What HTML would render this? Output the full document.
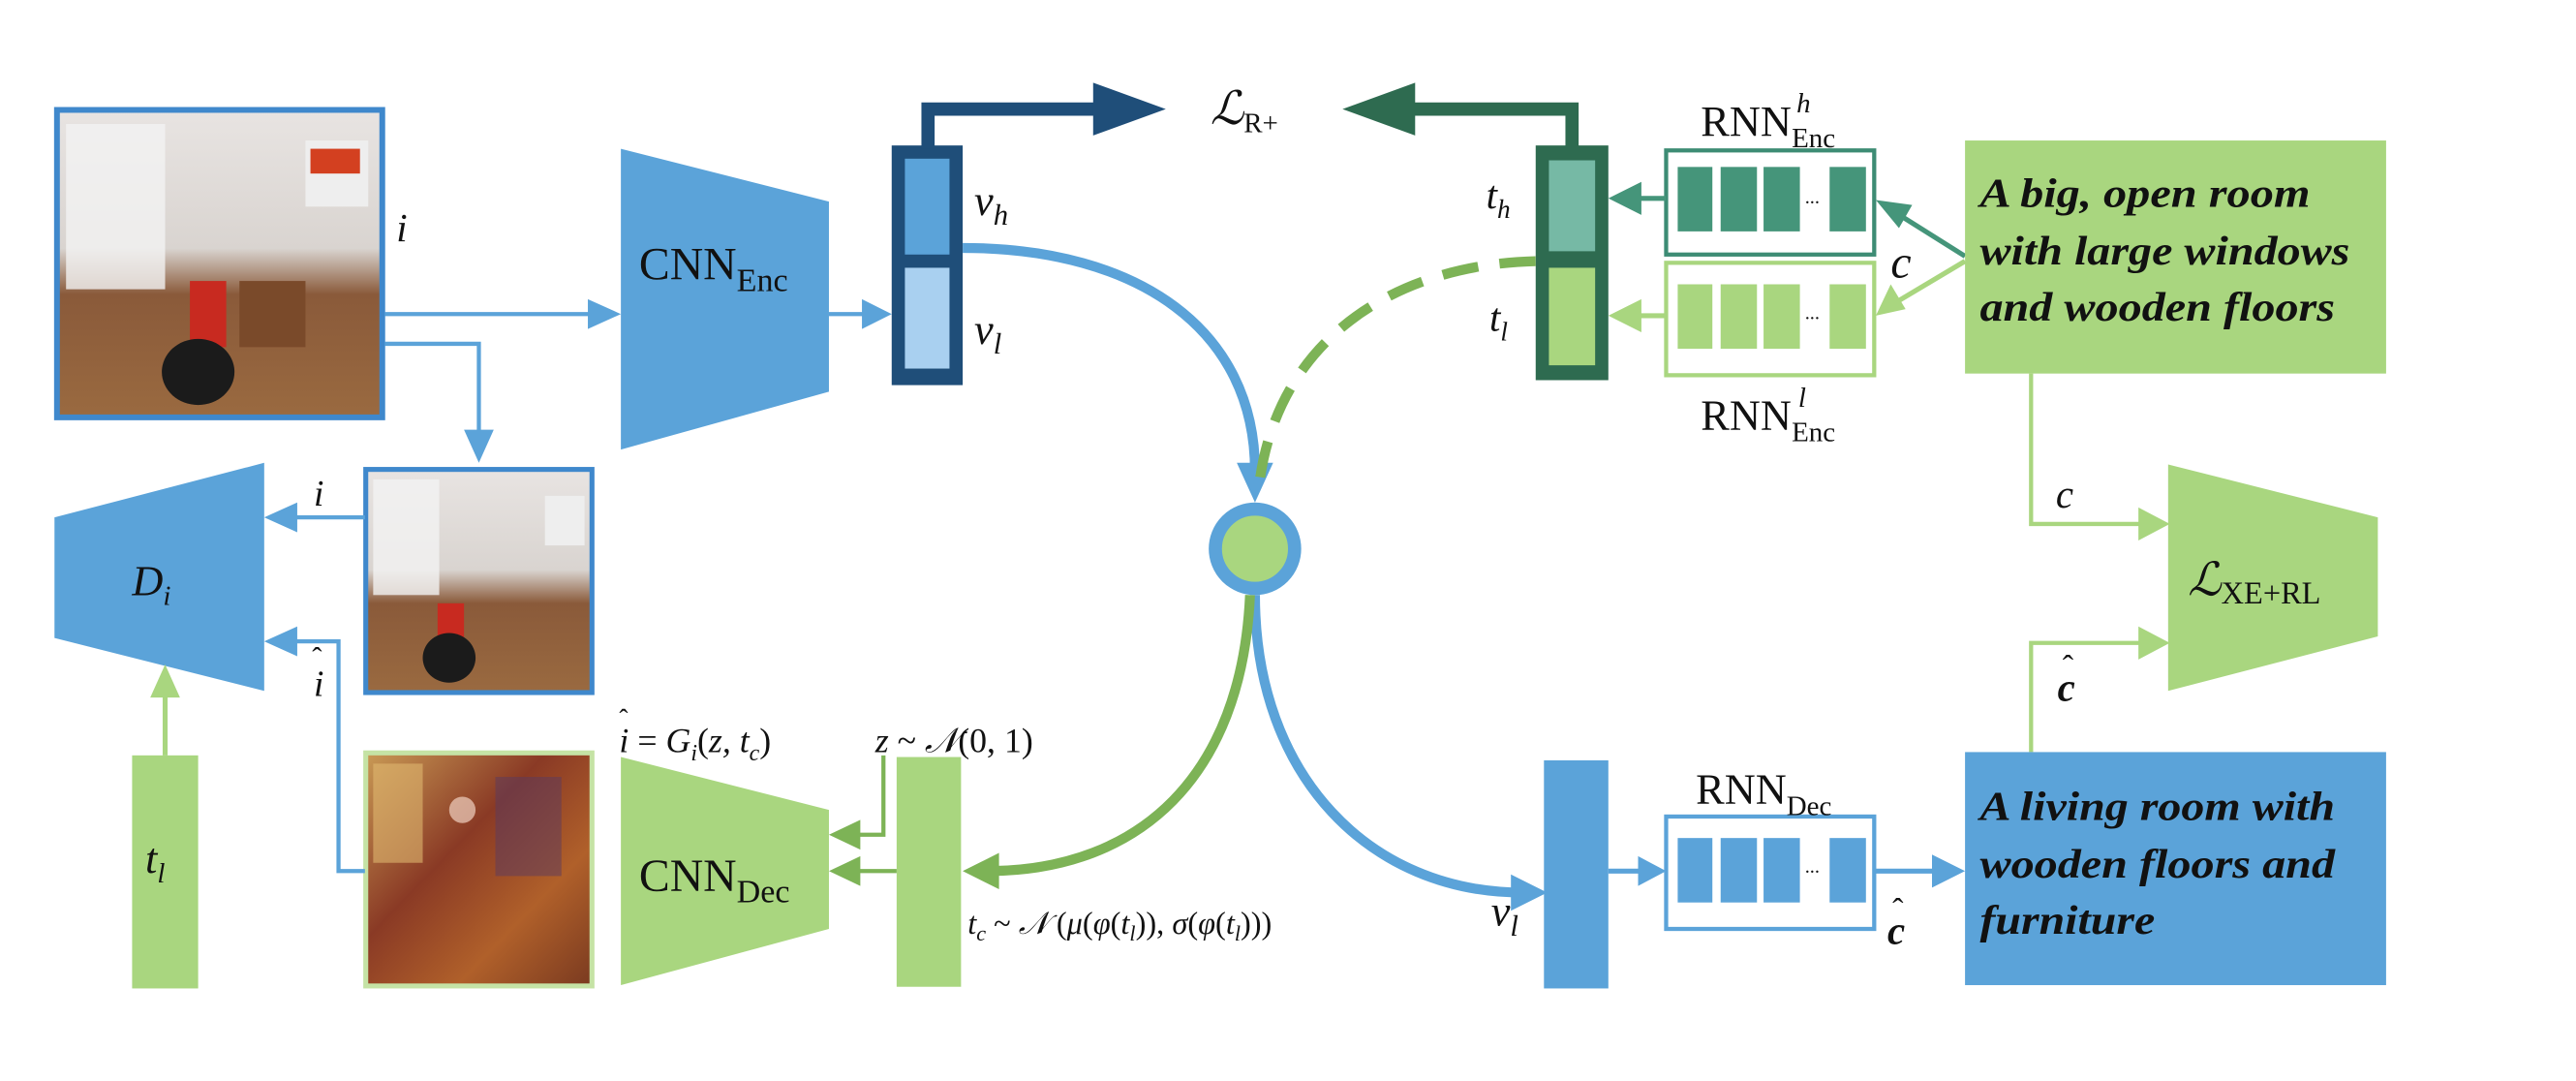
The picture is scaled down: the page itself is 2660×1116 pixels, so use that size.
<!DOCTYPE html>
<html><head><meta charset="utf-8"><style>
html,body{margin:0;padding:0;background:#fff;}
svg{display:block;}
text{font-family:"Liberation Serif",serif;fill:#111;}
.m{font-style:italic;}
.b{font-weight:bold;font-style:italic;}
</style></head><body>
<svg width="2660" height="1116" viewBox="0 0 1560 654" preserveAspectRatio="none" xmlns="http://www.w3.org/2000/svg">
<defs>
<linearGradient id="room" x1="0" y1="0" x2="0" y2="1">
<stop offset="0" stop-color="#e8e4e2"/><stop offset="0.45" stop-color="#d9d4d0"/>
<stop offset="0.6" stop-color="#8a5a3a"/><stop offset="1" stop-color="#9a6a40"/>
</linearGradient>
<linearGradient id="blur" x1="0" y1="0" x2="1" y2="1">
<stop offset="0" stop-color="#c99a55"/><stop offset="0.4" stop-color="#8a3a25"/>
<stop offset="0.7" stop-color="#b0602a"/><stop offset="1" stop-color="#7a3a20"/>
</linearGradient>
</defs>

<!-- Photo 1 -->
<rect x="34.5" y="66.5" width="197" height="186" fill="url(#room)" stroke="#3f88cc" stroke-width="3.5"/>
<rect x="40" y="75" width="60" height="100" fill="#f3f3f3" opacity="0.8"/>
<rect x="115" y="170" width="22" height="40" fill="#c82a20"/>
<ellipse cx="120" cy="225" rx="22" ry="20" fill="#1b1b1b"/>
<rect x="145" y="170" width="40" height="40" fill="#7a4a2a"/>
<rect x="185" y="85" width="38" height="40" fill="#eee"/>
<rect x="188" y="90" width="30" height="15" fill="#d34020"/>

<!-- Photo 2 -->
<rect x="221.5" y="284" width="137" height="135" fill="url(#room)" stroke="#3f88cc" stroke-width="3"/>
<rect x="226" y="290" width="40" height="70" fill="#f3f3f3" opacity="0.8"/>
<rect x="265" y="365" width="16" height="28" fill="#c82a20"/>
<ellipse cx="272" cy="398" rx="16" ry="15" fill="#1b1b1b"/>
<rect x="330" y="300" width="24" height="30" fill="#eee"/>

<!-- Photo 3 -->
<rect x="221.5" y="455.5" width="137" height="141" fill="url(#blur)" stroke="#c5e3a5" stroke-width="3"/>
<rect x="226" y="462" width="30" height="60" fill="#e0b870" opacity="0.6"/>
<circle cx="280" cy="490" r="8" fill="#f0d0c0" opacity="0.7"/>
<rect x="300" y="470" width="40" height="60" fill="#5a3a60" opacity="0.5"/>

<!-- i arrow to CNN_Enc -->
<line x1="233" y1="190" x2="362" y2="190" stroke="#5ba3d9" stroke-width="2.5"/>
<polygon points="376,190 356,181 356,199" fill="#5ba3d9"/>
<text x="240" y="146" class="m" font-size="24">i</text>
<polyline points="233,208 290,208 290,268" fill="none" stroke="#5ba3d9" stroke-width="2.5"/>
<polygon points="290,280 281,260 299,260" fill="#5ba3d9"/>

<!-- CNN_Enc -->
<polygon points="376,90 502,122 502,237 376,272" fill="#5ba3d9"/>
<text x="387" y="169" font-size="28">CNN<tspan font-size="20" dy="7">Enc</tspan></text>
<line x1="502" y1="190" x2="528" y2="190" stroke="#5ba3d9" stroke-width="2.5"/>
<polygon points="540,190 522,181 522,199" fill="#5ba3d9"/>

<!-- v bar -->
<rect x="540" y="88" width="43" height="145" fill="#1f4e79"/>
<rect x="548" y="96" width="27" height="58" fill="#5ba3d9"/>
<rect x="548" y="162" width="27" height="61" fill="#a9d0f0"/>
<text x="590" y="130" class="m" font-size="26">v<tspan font-size="18" dy="6">h</tspan></text>
<text x="590" y="208" class="m" font-size="26">v<tspan font-size="18" dy="6">l</tspan></text>
<polyline points="562,90 562,66 665,66" fill="none" stroke="#1f4e79" stroke-width="8"/>
<polygon points="706,66 662,50 662,82" fill="#1f4e79"/>
<text x="733" y="75" font-size="28" class="m">ℒ<tspan font-size="17" font-style="normal" dy="5">R+</tspan></text>

<!-- t bar -->
<rect x="930" y="88" width="44" height="142" fill="#2e6b50"/>
<rect x="938" y="97" width="28" height="55" fill="#76b9a5"/>
<rect x="938" y="162" width="28" height="59" fill="#a9d67f"/>
<text x="900" y="126" class="m" font-size="24">t<tspan font-size="16" dy="6">h</tspan></text>
<text x="902" y="200" class="m" font-size="24">t<tspan font-size="16" dy="6">l</tspan></text>
<polyline points="952,90 952,66 855,66" fill="none" stroke="#2e6b50" stroke-width="8"/>
<polygon points="813,66 857,50 857,82" fill="#2e6b50"/>

<!-- RNN h -->
<rect x="1009" y="91" width="126" height="63" fill="none" stroke="#3d8c74" stroke-width="2.5"/>
<rect x="1016" y="101" width="21" height="39" fill="#45957a"/>
<rect x="1042" y="101" width="22" height="39" fill="#45957a"/>
<rect x="1068" y="101" width="22" height="39" fill="#45957a"/>
<rect x="1108" y="101" width="22" height="39" fill="#45957a"/>
<text x="1093" y="123" font-size="12">...</text>
<line x1="1009" y1="120" x2="990" y2="120" stroke="#45957a" stroke-width="3"/>
<polygon points="974,120 994,110 994,130" fill="#45957a"/>
<text x="1030" y="82" font-size="26">RNN</text>
<text x="1085" y="89" font-size="17">Enc</text>
<text x="1088" y="68" class="m" font-size="17">h</text>

<!-- RNN l -->
<rect x="1009" y="159" width="126" height="68" fill="none" stroke="#a9d67f" stroke-width="2.5"/>
<rect x="1016" y="172" width="21" height="39" fill="#a9d67f"/>
<rect x="1042" y="172" width="22" height="39" fill="#a9d67f"/>
<rect x="1068" y="172" width="22" height="39" fill="#a9d67f"/>
<rect x="1108" y="172" width="22" height="39" fill="#a9d67f"/>
<text x="1093" y="193" font-size="12">...</text>
<line x1="1009" y1="191" x2="990" y2="191" stroke="#a9d67f" stroke-width="3"/>
<polygon points="974,191 994,181 994,201" fill="#a9d67f"/>
<text x="1030" y="260" font-size="26">RNN</text>
<text x="1085" y="267" font-size="17">Enc</text>
<text x="1089" y="246" class="m" font-size="17">l</text>

<!-- c arrows -->
<line x1="1190" y1="155" x2="1147" y2="128" stroke="#45957a" stroke-width="3"/>
<polygon points="1136,121 1158,124 1150,138" fill="#45957a"/>
<line x1="1190" y1="158" x2="1148" y2="183" stroke="#a9d67f" stroke-width="3"/>
<polygon points="1136,191 1145,172 1154,187" fill="#a9d67f"/>
<text x="1145" y="168" class="m" font-size="28">c</text>

<!-- green text box -->
<rect x="1190" y="85" width="255" height="141" fill="#a9d67f"/>
<text x="1199" y="125" class="b" font-size="25" textLength="200" lengthAdjust="spacingAndGlyphs">A big, open room</text>
<text x="1199" y="160" class="b" font-size="25" textLength="224" lengthAdjust="spacingAndGlyphs">with large windows</text>
<text x="1199" y="194" class="b" font-size="25" textLength="215" lengthAdjust="spacingAndGlyphs">and wooden floors</text>

<!-- c to L_XE -->
<polyline points="1230,226 1230,317 1300,317" fill="none" stroke="#a9d67f" stroke-width="2.5"/>
<polygon points="1314,317 1295,307 1295,327" fill="#a9d67f"/>
<text x="1245" y="307" class="m" font-size="24">c</text>
<polygon points="1313,281 1440,313 1440,385 1313,418" fill="#a9d67f"/>
<text x="1325" y="360" class="m" font-size="28">ℒ<tspan font-style="normal" font-size="19" dy="5">XE+RL</tspan></text>
<polyline points="1230,455 1230,389 1300,389" fill="none" stroke="#a9d67f" stroke-width="2.5"/>
<polygon points="1314,389 1295,379 1295,399" fill="#a9d67f"/>
<text x="1246" y="424" class="b" font-size="24">c</text>
<text x="1249" y="410" font-size="20">ˆ</text>

<!-- blue text box -->
<rect x="1190" y="455" width="255" height="141" fill="#5ba3d9"/>
<text x="1199" y="496" class="b" font-size="25" textLength="215" lengthAdjust="spacingAndGlyphs">A living room with</text>
<text x="1199" y="531" class="b" font-size="25" textLength="215" lengthAdjust="spacingAndGlyphs">wooden floors and</text>
<text x="1199" y="565" class="b" font-size="25" textLength="106" lengthAdjust="spacingAndGlyphs">furniture</text>

<!-- v_l bar + RNN dec -->
<rect x="935" y="460" width="39" height="138" fill="#5ba3d9"/>
<text x="903" y="560" class="m" font-size="26">v<tspan font-size="18" dy="6">l</tspan></text>
<line x1="974" y1="527" x2="996" y2="527" stroke="#5ba3d9" stroke-width="3"/>
<polygon points="1009,527 992,518 992,536" fill="#5ba3d9"/>
<rect x="1009" y="494" width="126" height="68" fill="none" stroke="#5ba3d9" stroke-width="2.5"/>
<rect x="1016" y="507" width="21" height="39" fill="#5ba3d9"/>
<rect x="1042" y="507" width="22" height="39" fill="#5ba3d9"/>
<rect x="1068" y="507" width="22" height="39" fill="#5ba3d9"/>
<rect x="1108" y="507" width="22" height="39" fill="#5ba3d9"/>
<text x="1093" y="528" font-size="12">...</text>
<text x="1027" y="486" font-size="26">RNN<tspan font-size="17" dy="7">Dec</tspan></text>
<line x1="1135" y1="527" x2="1175" y2="527" stroke="#5ba3d9" stroke-width="3"/>
<polygon points="1190,527 1170,517 1170,537" fill="#5ba3d9"/>
<text x="1143" y="571" class="b" font-size="24">c</text>
<text x="1146" y="557" font-size="20">ˆ</text>

<!-- curves -->
<path d="M583,150 C690,150 760,200 760,285" fill="none" stroke="#5ba3d9" stroke-width="6"/>
<polygon points="760,304 749,280 771,280" fill="#5ba3d9"/>
<path d="M930,158 C845,160 775,205 763,290" fill="none" stroke="#7db356" stroke-width="6" stroke-dasharray="22,13"/>
<path d="M760,360 C760,470 830,540 922,540" fill="none" stroke="#5ba3d9" stroke-width="6"/>
<polygon points="937,540 915,529 915,551" fill="#5ba3d9"/>
<path d="M757,360 C752,470 690,526 600,527" fill="none" stroke="#7db356" stroke-width="6"/>
<polygon points="583,527 605,516 605,538" fill="#7db356"/>
<circle cx="760" cy="332" r="24" fill="#a9d67f" stroke="#5ba3d9" stroke-width="8"/>

<!-- D_i -->
<polygon points="33,313 160,280 160,418 33,386" fill="#5ba3d9"/>
<text x="80" y="360" class="m" font-size="26">D<tspan font-size="17" dy="6">i</tspan></text>
<line x1="221" y1="313" x2="175" y2="313" stroke="#5ba3d9" stroke-width="2.5"/>
<polygon points="160,313 180,304 180,322" fill="#5ba3d9"/>
<text x="190" y="306" class="m" font-size="22">i</text>
<polyline points="221,527 205,527 205,388 175,388" fill="none" stroke="#5ba3d9" stroke-width="2.5"/>
<polygon points="160,388 180,379 180,397" fill="#5ba3d9"/>
<text x="190" y="421" class="m" font-size="22">i</text>
<text x="189" y="404" font-size="18">ˆ</text>

<!-- t_l bar -->
<rect x="80" y="457" width="40" height="141" fill="#a9d67f"/>
<line x1="100" y1="457" x2="100" y2="418" stroke="#a9d67f" stroke-width="3"/>
<polygon points="100,402 91,422 109,422" fill="#a9d67f"/>
<text x="88" y="528" class="m" font-size="26">t<tspan font-size="17" dy="6">l</tspan></text>

<!-- CNN_Dec -->
<polygon points="376,458 502,490 502,562 376,596" fill="#a9d67f"/>
<text x="387" y="539" font-size="28">CNN<tspan font-size="20" dy="7">Dec</tspan></text>
<rect x="543" y="458" width="39" height="139" fill="#a9d67f"/>
<polyline points="535,457 535,505 515,505" fill="none" stroke="#7db356" stroke-width="2.5"/>
<polygon points="502,505 521,496 521,514" fill="#7db356"/>
<line x1="543" y1="527" x2="515" y2="527" stroke="#7db356" stroke-width="2.5"/>
<polygon points="502,527 521,518 521,536" fill="#7db356"/>
<text x="375" y="455" class="m" font-size="21">i<tspan font-style="normal"> = </tspan>G<tspan font-size="14" dy="5">i</tspan><tspan dy="-5" font-style="normal">(</tspan>z, t<tspan font-size="14" dy="5">c</tspan><tspan dy="-5" font-style="normal">)</tspan></text>
<text x="375" y="440" font-size="16">ˆ</text>
<text x="530" y="455" class="m" font-size="21">z<tspan font-style="normal"> ~ </tspan>𝒩<tspan font-style="normal">(0, 1)</tspan></text>
<text x="586" y="565" class="m" font-size="19">t<tspan font-size="13" dy="4">c</tspan><tspan dy="-4" font-style="normal"> ~ </tspan>𝒩<tspan font-style="normal"> (</tspan>μ<tspan font-style="normal">(</tspan>φ<tspan font-style="normal">(</tspan>t<tspan font-size="13" dy="4">l</tspan><tspan dy="-4" font-style="normal">)), </tspan>σ<tspan font-style="normal">(</tspan>φ<tspan font-style="normal">(</tspan>t<tspan font-size="13" dy="4">l</tspan><tspan dy="-4" font-style="normal">)))</tspan></text>
</svg>
</body></html>
